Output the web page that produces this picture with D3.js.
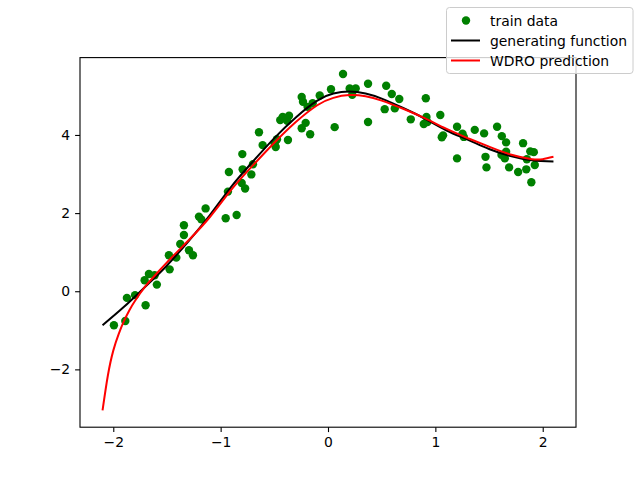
<!DOCTYPE html>
<html><head><meta charset="utf-8">
<script src="https://cdn.jsdelivr.net/npm/d3@7"></script>
<style>body{margin:0;background:#fff}svg{display:block}text{font-family:"DejaVu Sans",sans-serif}</style>
</head><body><svg id="c" width="640" height="480"></svg>
<script>
const trainX = [-1.994,-1.888,-1.873,-1.797,-1.699,-1.708,-1.668,-1.615,-1.594,-1.482,-1.475,-1.413,-1.376,-1.342,-1.342,-1.295,-1.258,-1.202,-1.180,-1.140,-0.953,-0.851,-0.932,-0.923,-0.798,-0.795,-0.804,-0.772,-0.714,-0.699,-0.643,-0.609,-0.497,-0.475,-0.487,-0.445,-0.422,-0.363,-0.380,-0.373,-0.245,-0.233,-0.143,-0.190,-0.245,-0.208,-0.166,-0.077,0.028,0.062,0.140,0.202,0.258,0.226,0.373,0.373,0.542,0.594,0.664,0.528,0.622,0.771,0.911,0.917,0.892,0.926,1.046,1.072,1.060,1.202,1.202,1.253,1.265,1.367,1.454,1.467,1.476,1.575,1.619,1.659,1.659,1.616,1.647,1.687,1.771,1.817,1.847,1.884,1.917,1.852,1.926,1.894];
const trainY = [-0.87,-0.76,-0.17,-0.10,-0.36,0.28,0.44,0.41,0.17,0.92,0.56,0.86,1.21,1.44,1.69,1.05,0.92,1.91,1.84,2.12,1.87,1.95,2.55,3.05,3.51,3.12,2.77,2.63,2.99,3.25,4.07,3.74,3.79,3.89,3.69,4.38,4.46,4.49,4.36,3.87,4.97,4.85,4.81,4.72,4.17,4.31,4.02,5.01,5.17,4.20,5.56,5.19,5.19,5.03,5.31,4.33,5.26,5.05,4.92,4.66,4.68,4.40,4.94,4.46,4.28,4.33,4.51,3.99,3.94,4.21,3.40,4.03,3.95,4.13,4.04,3.44,3.17,4.21,3.97,3.81,3.57,3.49,3.40,3.17,3.05,3.79,3.12,3.58,3.56,3.38,3.23,2.79];
const genX = [-2.10,-1.90,-1.70,-1.50,-1.30,-1.10,-0.90,-0.70,-0.50,-0.30,-0.10,0.05,0.20,0.35,0.50,0.70,0.90,1.10,1.30,1.50,1.70,1.90,2.10];
const genY = [-0.87,-0.40,0.12,0.66,1.28,1.95,2.68,3.32,3.92,4.45,4.88,5.06,5.11,5.06,4.93,4.69,4.42,4.12,3.88,3.64,3.46,3.35,3.32];
const predX = [-2.10,-2.05,-2.00,-1.95,-1.90,-1.85,-1.80,-1.70,-1.60,-1.50,-1.30,-1.10,-0.90,-0.70,-0.50,-0.30,-0.10,0.05,0.20,0.35,0.50,0.70,0.90,1.10,1.30,1.50,1.70,1.90,2.00,2.10];
const predY = [-3.05,-2.15,-1.52,-1.10,-0.76,-0.485,-0.255,0.13,0.44,0.74,1.30,1.90,2.60,3.22,3.80,4.33,4.76,4.95,5.02,4.99,4.88,4.67,4.43,4.16,3.92,3.70,3.50,3.38,3.38,3.44];
const xTicks = [-2,-1,0,1,2];
const yTicks = [-2,0,2,4];
const legendLabels = ["train data","generating function","WDRO prediction"];

const svg = d3.select("#c");
const L=80,R=576,T=57.6,B=427.2;
const x = d3.scaleLinear().domain([-2.31,2.31]).range([L,R]);
const y = d3.scaleLinear().domain([-3.48,5.98]).range([B,T]);
const fmt = d => d<0 ? "\u2212"+Math.abs(d) : String(d);

const g = svg.append("g");
g.selectAll("circle.pt").data(trainX.map((v,i)=>[v,trainY[i]])).enter().append("circle")
  .attr("cx",d=>x(d[0])).attr("cy",d=>y(d[1])).attr("r",4.2).attr("fill","#008000");
const line = d3.line().x(d=>x(d[0])).y(d=>y(d[1])).curve(d3.curveNatural);
g.append("path").attr("d",line(genX.map((v,i)=>[v,genY[i]]))).attr("fill","none").attr("stroke","#000").attr("stroke-width",2);
g.append("path").attr("d",line(predX.map((v,i)=>[v,predY[i]]))).attr("fill","none").attr("stroke","#ff0000").attr("stroke-width",2);

const xa = svg.append("g").attr("transform",`translate(0,${B})`).call(d3.axisBottom(x).tickValues(xTicks).tickFormat(fmt).tickSize(4.9).tickPadding(4.9));
const ya = svg.append("g").attr("transform",`translate(${L},0)`).call(d3.axisLeft(y).tickValues(yTicks).tickFormat(fmt).tickSize(4.9).tickPadding(4.9));
[xa,ya].forEach(a=>{a.select(".domain").remove();a.selectAll("text").attr("font-size",13.9).attr("font-family","DejaVu Sans").attr("fill","#000");a.selectAll("line").attr("stroke","#000").attr("stroke-width",1.1);});
svg.append("rect").attr("x",L).attr("y",T).attr("width",R-L).attr("height",B-T).attr("fill","none").attr("stroke","#000").attr("stroke-width",1.1);

const lg = svg.append("g");
lg.append("rect").attr("x",446.5).attr("y",7.5).attr("width",186.5).attr("height",66).attr("rx",3).attr("fill","#fff").attr("fill-opacity",0.8).attr("stroke","#cccccc").attr("stroke-width",1);
const ly = [20.5,40.5,60.5];
lg.append("circle").attr("cx",466).attr("cy",ly[0]).attr("r",4.2).attr("fill","#008000");
lg.append("line").attr("x1",451).attr("x2",480).attr("y1",ly[1]).attr("y2",ly[1]).attr("stroke","#000").attr("stroke-width",2);
lg.append("line").attr("x1",451).attr("x2",480).attr("y1",ly[2]).attr("y2",ly[2]).attr("stroke","#ff0000").attr("stroke-width",2);
lg.selectAll("text").data(legendLabels).enter().append("text").attr("x",490).attr("y",(d,i)=>ly[i]).attr("dy","0.36em").attr("font-size",13.9).attr("fill","#000").text(d=>d);
</script></body></html>
